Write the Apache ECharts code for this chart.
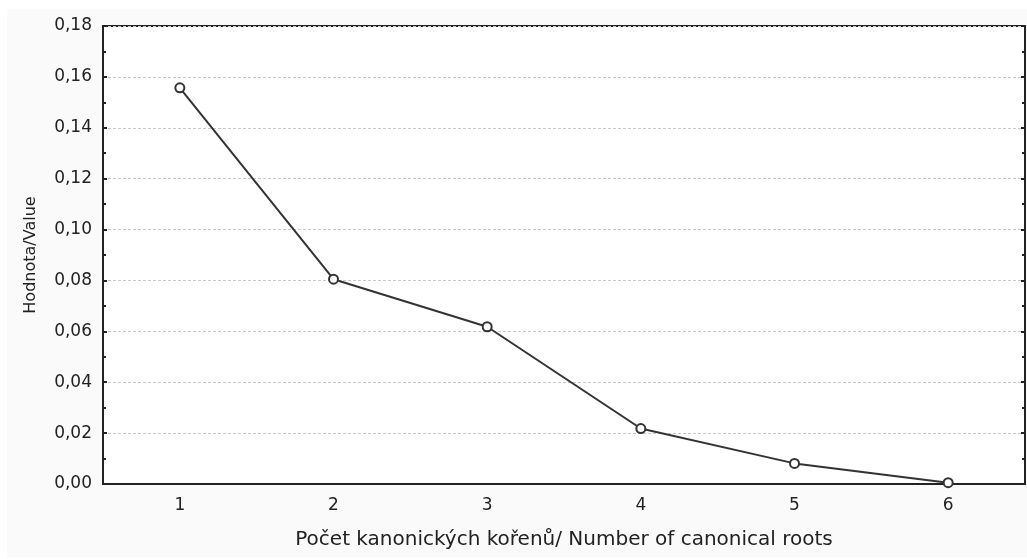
<!DOCTYPE html>
<html>
<head>
<meta charset="utf-8">
<script src="https://cdn.jsdelivr.net/npm/echarts@6/dist/echarts.min.js"></script>
<style>
html,body{margin:0;padding:0;background:#fff;}
#c{width:1027px;height:559px;}
</style>
</head>
<body>
<div id="c"></div>
<script>
const categories = ['1', '2', '3', '4', '5', '6'];
const values = [0.1557, 0.0805, 0.0618, 0.0218, 0.0081, 0.0005];
const xTitle = 'Počet kanonických kořenů/ Number of canonical roots';
const yTitle = 'Hodnota/Value';

const chart = echarts.init(document.getElementById('c'));
const font = 'DejaVu Sans, Liberation Sans, Arial, sans-serif';
const fmt = v => v.toFixed(2).replace('.', ',');
chart.setOption({
  animation: false,
  backgroundColor: '#ffffff',
  graphic: [{
    type: 'rect', left: 7, top: 9, shape: {width: 1020, height: 548},
    style: {fill: '#fafafa'}, z: -10
  }],
  grid: {left: 103, top: 26, right: 2, bottom: 75, show: true, backgroundColor: '#ffffff', borderColor: '#222', borderWidth: 2, z: 0},
  xAxis: [{
    type: 'category', data: categories, boundaryGap: true,
    axisLine: {lineStyle: {color: '#222', width: 2}},
    axisTick: {inside: true, alignWithLabel: true, length: 4, lineStyle: {color: '#222', width: 2}},
    axisLabel: {color: '#222', fontSize: 17, fontFamily: font, margin: 13},
    name: xTitle, nameLocation: 'middle', nameGap: 46,
    nameTextStyle: {color: '#222', fontSize: 20, fontFamily: font},
    splitLine: {show: false}
  }, {
    type: 'category', data: categories, boundaryGap: true, position: 'top',
    axisLine: {lineStyle: {color: '#222', width: 2}},
    axisTick: {inside: true, alignWithLabel: true, length: 4, lineStyle: {color: '#222', width: 2}},
    axisLabel: {show: false}
  }],
  yAxis: [{
    type: 'value', min: 0, max: 0.18, interval: 0.02,
    axisLine: {show: true, lineStyle: {color: '#222', width: 2}},
    axisTick: {show: true, inside: true, length: 4, lineStyle: {color: '#222', width: 2}},
    minorTick: {show: true, splitNumber: 2, length: 3, lineStyle: {color: '#222', width: 2}},
    axisLabel: {color: '#222', fontSize: 17, fontFamily: font, margin: 11, formatter: fmt},
    splitLine: {show: true, lineStyle: {color: '#c8c8c8', type: [3, 2], width: 1}},
    name: yTitle, nameLocation: 'middle', nameGap: 64,
    nameTextStyle: {color: '#222', fontSize: 16, fontFamily: font}
  }, {
    type: 'value', min: 0, max: 0.18, interval: 0.02, position: 'right',
    axisLine: {show: true, lineStyle: {color: '#222', width: 2}},
    axisTick: {show: true, inside: true, length: 4, lineStyle: {color: '#222', width: 2}},
    minorTick: {show: true, splitNumber: 2, length: 3, lineStyle: {color: '#222', width: 2}},
    axisLabel: {show: false},
    splitLine: {show: false}
  }],
  series: [{
    type: 'line', data: values, xAxisIndex: 0, yAxisIndex: 0,
    lineStyle: {color: '#333', width: 2},
    symbol: 'emptyCircle', symbolSize: 9,
    itemStyle: {color: '#333', borderColor: '#333', borderWidth: 2},
    z: 5
  }]
});
</script>
</body>
</html>
